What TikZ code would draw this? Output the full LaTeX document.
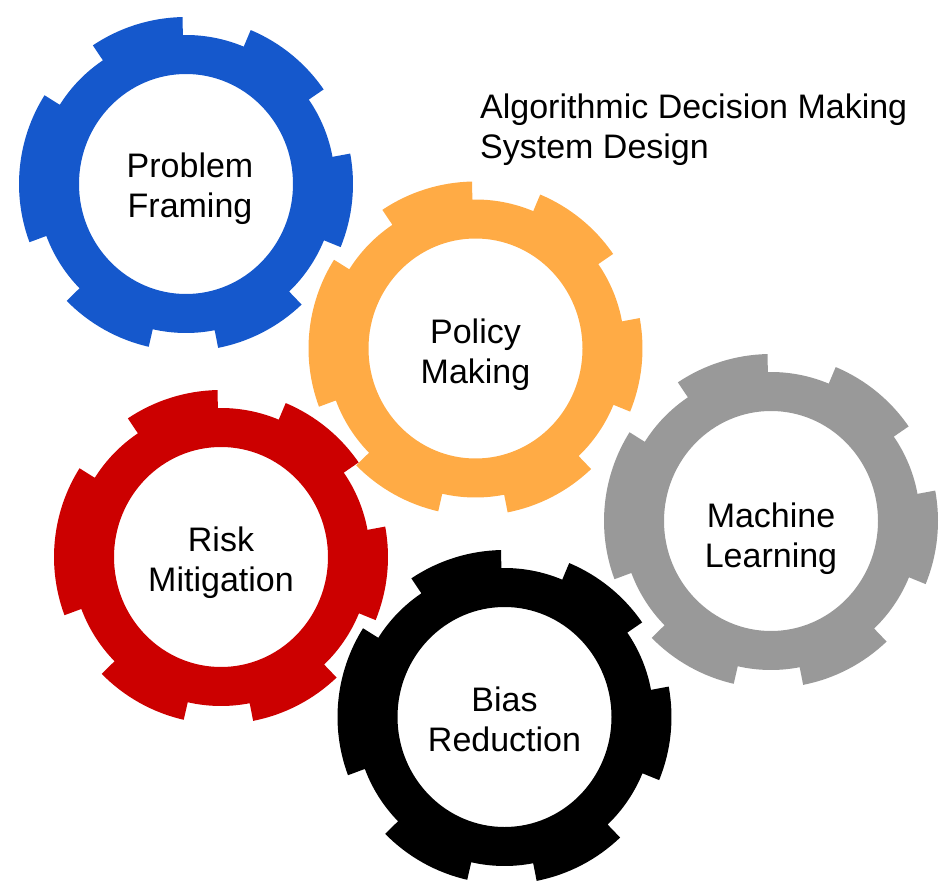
\documentclass[tikz,border=0pt]{standalone}
\usepackage{fontspec}
\setmainfont{Liberation Sans}
\definecolor{gblue}{RGB}{21,88,204}
\definecolor{gorange}{RGB}{255,171,69}
\definecolor{ggray}{RGB}{153,153,153}
\definecolor{gred}{RGB}{204,0,0}
\definecolor{gblack}{RGB}{0,0,0}
\tikzset{
  pics/gear/.style={code={
    \begin{scope}[yscale=-1]
    \fill[#1, even odd rule]
      (-135.6:167) arc[start angle=-135.6, end angle=-102.9, radius=167]
      -- (-102.9:149) arc[start angle=-102.9, end angle=-78.9, radius=149]
      -- (-78.9:167) arc[start angle=-78.9, end angle=-46.2, radius=167]
      -- (-46.2:149) arc[start angle=-46.2, end angle=-22.2, radius=149]
      -- (-22.2:167) arc[start angle=-22.2, end angle=10.5, radius=167]
      -- (10.5:149) arc[start angle=10.5, end angle=34.5, radius=149]
      -- (34.5:167) arc[start angle=34.5, end angle=67.2, radius=167]
      -- (67.2:149) arc[start angle=67.2, end angle=91.2, radius=149]
      -- (91.2:167) arc[start angle=91.2, end angle=123.9, radius=167]
      -- (123.9:149) arc[start angle=123.9, end angle=147.9, radius=149]
      -- (147.9:167) arc[start angle=147.9, end angle=200.4, radius=167]
      -- (200.4:149) arc[start angle=200.4, end angle=224.4, radius=149]
      -- cycle
      (0,0) ellipse[x radius=107, y radius=110];
    \end{scope}
  }},
  lbl/.style={font=\fontsize{34}{40}\selectfont, align=center, text=black, anchor=north, inner sep=0pt},
  ttl/.style={font=\fontsize{34}{40}\selectfont, align=left, text=black, anchor=north west, inner sep=0pt},
}
\begin{document}
\begin{tikzpicture}[x=1pt,y=-1pt]
\useasboundingbox (0,0) rectangle (950,896);
\pic at (186,184) {gear=gblue};
\pic at (475.5,348.5) {gear=gorange};
\pic at (771,521) {gear=ggray};
\pic at (221,557) {gear=gred};
\pic at (504.5,717) {gear=gblack};
\node[lbl] (pf) at (190,152.7) {Problem\\Framing};
\node[lbl] (pm) at (475.5,318.7) {Policy\\Making};
\node[lbl] (ml) at (771,502.4) {Machine\\Learning};
\node[lbl] (rm) at (221,526.4) {Risk\\Mitigation};
\node[lbl] (br) at (504.5,686.4) {Bias\\Reduction};
\node[ttl] (title) at (480,93.7) {Algorithmic Decision Making\\System Design};
\end{tikzpicture}
\end{document}
